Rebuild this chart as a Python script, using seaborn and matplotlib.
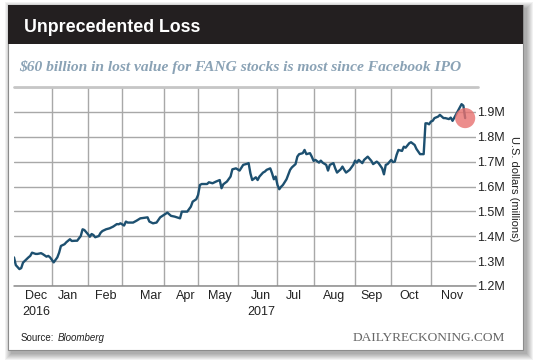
import matplotlib
matplotlib.use("Agg")
import matplotlib.pyplot as plt
from matplotlib.patches import Rectangle
import seaborn as sns
import pandas as pd

# ---- data (trading-day index since 1 Dec 2016, value in $M) ----
day = [0, 1, 3, 4, 5, 6, 8, 9, 10, 12, 13, 15, 16, 18, 19, 20, 21, 22, 24, 25,
       26, 28, 29, 31, 32, 34, 35, 37, 38, 39, 41, 42, 43, 44, 45, 47, 48, 49, 51, 53,
       55, 57, 58, 59, 61, 62, 63, 66, 68, 70, 73, 74, 75, 77, 79, 81, 84, 85, 87, 89,
       92, 93, 96, 97, 98, 99, 101, 102, 103, 104, 107, 108, 110, 112, 114, 115, 116, 118, 120, 121,
       123, 125, 127, 129, 130, 131, 132, 134, 135, 136, 138, 139, 140, 142, 143, 144, 145, 146, 147, 148,
       149, 151, 153, 154, 156, 157, 158, 160, 161, 162, 164, 165, 166, 167, 169, 170, 171, 173, 174, 175,
       177, 178, 179, 181, 182, 183, 184, 186, 188, 189, 190, 191, 193, 194, 196, 198, 199, 201, 202, 204,
       205, 206, 207, 209, 210, 211, 212, 213, 215, 216, 217, 219, 220, 222, 223, 225, 226, 227, 228, 229,
       230, 231, 232, 233, 235, 236, 238, 239, 241, 242, 243, 244, 246, 248, 249, 250]
value = [1.315, 1.284, 1.268, 1.272, 1.294, 1.301, 1.315, 1.321, 1.334, 1.329, 1.329, 1.332, 1.328, 1.318, 1.321, 1.315, 1.305, 1.295, 1.315, 1.334,
         1.361, 1.368, 1.376, 1.388, 1.381, 1.382, 1.382, 1.401, 1.428, 1.425, 1.408, 1.398, 1.409, 1.405, 1.396, 1.401, 1.414, 1.421, 1.428, 1.432,
         1.439, 1.449, 1.448, 1.452, 1.443, 1.459, 1.455, 1.455, 1.463, 1.472, 1.475, 1.476, 1.459, 1.452, 1.455, 1.476, 1.490, 1.495, 1.482, 1.479,
         1.472, 1.499, 1.499, 1.509, 1.519, 1.539, 1.549, 1.566, 1.606, 1.610, 1.610, 1.617, 1.613, 1.620, 1.626, 1.593, 1.609, 1.620, 1.640, 1.669,
         1.673, 1.664, 1.687, 1.691, 1.694, 1.653, 1.626, 1.637, 1.626, 1.640, 1.656, 1.660, 1.667, 1.673, 1.653, 1.629, 1.640, 1.606, 1.589, 1.599,
         1.606, 1.629, 1.667, 1.677, 1.690, 1.720, 1.730, 1.734, 1.747, 1.730, 1.734, 1.720, 1.703, 1.707, 1.696, 1.704, 1.696, 1.687, 1.664, 1.687,
         1.694, 1.673, 1.656, 1.669, 1.680, 1.667, 1.656, 1.667, 1.687, 1.704, 1.696, 1.707, 1.694, 1.707, 1.720, 1.703, 1.690, 1.700, 1.694, 1.673,
         1.649, 1.687, 1.690, 1.707, 1.698, 1.700, 1.727, 1.747, 1.743, 1.760, 1.756, 1.774, 1.778, 1.767, 1.751, 1.730, 1.730, 1.730, 1.854, 1.854,
         1.850, 1.861, 1.864, 1.875, 1.881, 1.888, 1.875, 1.875, 1.871, 1.877, 1.864, 1.877, 1.904, 1.931, 1.925, 1.875]

month_starts = [21, 41, 60, 83, 102, 124, 146, 166, 189, 209, 231]
month_labels = ["Dec\n2016", "Jan", "Feb", "Mar", "Apr", "May", "Jun\n2017", "Jul", "Aug", "Sep", "Oct", "Nov"]
month_label_pos = [12.5, 30, 51, 76, 95, 114, 137, 155, 177.5, 198, 219, 243]
y_ticks = [1.2, 1.3, 1.4, 1.5, 1.6, 1.7, 1.8, 1.9, 2.0]
y_labels = ["1.2M", "1.3M", "1.4M", "1.5M", "1.6M", "1.7M", "1.8M", "1.9M", ""]

title = "Unprecedented Loss"
subtitle = "$60 billion in lost value for FANG stocks is most since Facebook IPO"

df = pd.DataFrame({"day": day, "value": value})

sns.set_theme(style="white")
plt.rcParams["font.family"] = ["Liberation Sans", "DejaVu Sans"]

W, H = 540, 361
fig = plt.figure(figsize=(W / 100, H / 100), dpi=100)
fig.patch.set_facecolor("white")


def fx(x):
    return x / W


def fy(y):
    return 1 - y / H


def rect(x0, y0, x1, y1, **kw):
    fig.patches.append(Rectangle((fx(x0), fy(y1)), fx(x1) - fx(x0), fy(y0) - fy(y1),
                                 transform=fig.transFigure, **kw))


# shadow
for k in range(7):
    rect(8 + 3 - k, 5 + 3 - k, 523 + 4 + k, 350 + 4 + k, facecolor="black",
         edgecolor="none", alpha=0.05, zorder=0)
# card
rect(8, 5, 523, 350, facecolor="white", edgecolor="#8c8c8c", lw=0.8, zorder=1)
# header
rect(8, 5, 523, 44, facecolor="#231f20", edgecolor="none", zorder=2)

fig.text(fx(24), fy(27), title, color="white", fontsize=12.8, fontweight="bold",
         va="center", ha="left", zorder=3)
fig.text(fx(19), fy(67), subtitle, color="#8aa2b5", fontsize=11.15, fontweight="bold",
         fontstyle="italic", family=["Liberation Serif", "DejaVu Serif"],
         va="center", ha="left", zorder=3)

ax = fig.add_axes([fx(14), fy(286), fx(476) - fx(14), fy(87) - fy(286)])
ax.set_facecolor("none")
ax.set_zorder(4)

sns.lineplot(data=df, x="day", y="value", ax=ax, color="#1d5070", lw=1.7, zorder=3)
ax.scatter([day[-1]], [value[-1]], s=210, color="#e8716f", alpha=0.8, edgecolors="none",
           zorder=5, clip_on=False)

ax.set_xlim(0, 256)
ax.set_ylim(1.2, 2.0)
for s in ax.spines.values():
    s.set_visible(False)

ax.set_yticks(y_ticks)
ax.set_yticklabels(y_labels)
ax.yaxis.tick_right()
ax.tick_params(axis="y", length=0, pad=1, labelsize=9, labelcolor="#222222")

ax.set_xticks(month_label_pos)
ax.set_xticklabels(month_labels, linespacing=1.45)
ax.set_xticks(month_starts, minor=True)
ax.tick_params(axis="x", which="both", length=0, pad=3, labelsize=9, labelcolor="#222222")

ax.set_axisbelow(True)
ax.grid(False)
ax.grid(True, which="major", axis="y", color="#a8a8a8", lw=1.0)
ax.grid(True, which="minor", axis="x", color="#a8a8a8", lw=1.0)
ax.plot([0, 1.004], [1, 1], transform=ax.transAxes, color="#c6c6c6", lw=2.0,
        clip_on=False, zorder=2)
ax.plot([0, 1], [0, 0], transform=ax.transAxes, color="#8a8a8a", lw=1.1,
        clip_on=False, zorder=2)
ax.set_xlabel("")
ax.set_ylabel("")

fig.text(fx(514), fy(189), "U.S. dollars (millions)", rotation=-90, fontsize=8,
         color="#222222", ha="center", va="center")

fig.text(fx(21), fy(338), "Source:", fontsize=7, color="#222222", va="center", ha="left")
fig.text(fx(57.5), fy(338), "Bloomberg", fontsize=7, fontstyle="italic", color="#222222",
         va="center", ha="left")
fig.text(fx(505), fy(338), "DAILYRECKONING.COM", fontsize=9.6, color="#666666",
         family=["Liberation Serif", "DejaVu Serif"], va="center", ha="right")

fig.savefig("out.png", dpi=100, facecolor="white")
